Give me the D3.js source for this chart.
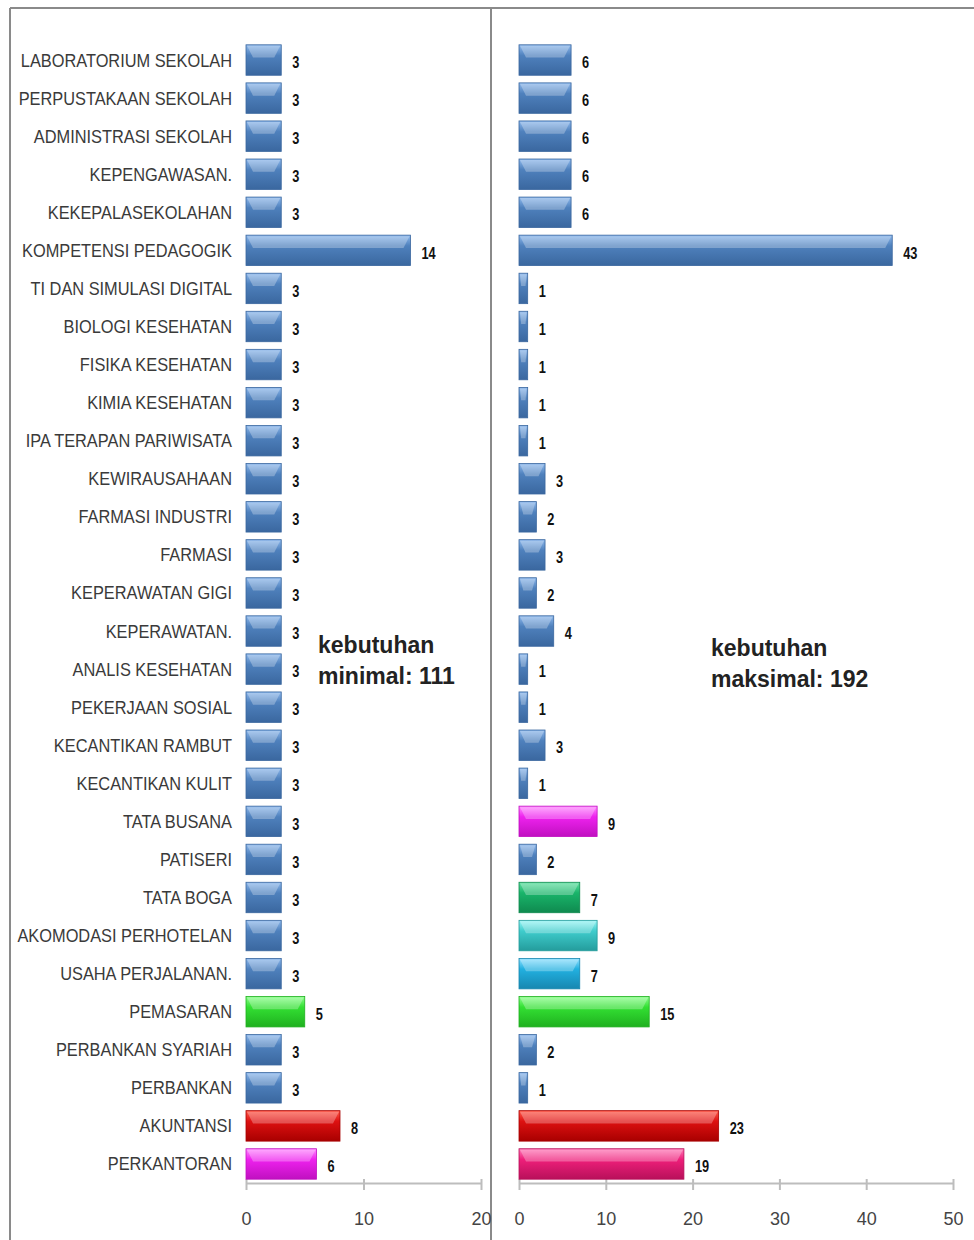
<!DOCTYPE html>
<html><head><meta charset="utf-8">
<script src="https://cdn.jsdelivr.net/npm/d3@7"></script>
<style>
html,body{margin:0;padding:0;background:#fff;}
svg{display:block;}
.cat{font-family:"Liberation Sans",Arial,sans-serif;font-size:18px;fill:#3a3a3a;}
.val{font-family:"Liberation Sans",Arial,sans-serif;font-size:17px;font-weight:bold;fill:#111;}
.tick text{font-family:"Liberation Sans",Arial,sans-serif;font-size:18px;fill:#444;}
.note{font-family:"Liberation Sans",Arial,sans-serif;font-size:23px;font-weight:bold;fill:#222;}
</style>
</head><body>
<svg id="c" width="974" height="1240"></svg>
<script>
const categories = ["LABORATORIUM SEKOLAH","PERPUSTAKAAN SEKOLAH","ADMINISTRASI SEKOLAH","KEPENGAWASAN.","KEKEPALASEKOLAHAN","KOMPETENSI PEDAGOGIK","TI DAN SIMULASI DIGITAL","BIOLOGI KESEHATAN","FISIKA KESEHATAN","KIMIA KESEHATAN","IPA TERAPAN PARIWISATA","KEWIRAUSAHAAN","FARMASI INDUSTRI","FARMASI","KEPERAWATAN GIGI","KEPERAWATAN.","ANALIS KESEHATAN","PEKERJAAN SOSIAL","KECANTIKAN RAMBUT","KECANTIKAN KULIT","TATA BUSANA","PATISERI","TATA BOGA","AKOMODASI PERHOTELAN","USAHA PERJALANAN.","PEMASARAN","PERBANKAN SYARIAH","PERBANKAN","AKUNTANSI","PERKANTORAN"];
const minValues = [3,3,3,3,3,14,3,3,3,3,3,3,3,3,3,3,3,3,3,3,3,3,3,3,3,5,3,3,8,6];
const maxValues = [6,6,6,6,6,43,1,1,1,1,1,3,2,3,2,4,1,1,3,1,9,2,7,9,7,15,2,1,23,19];
const minColors = ["blue","blue","blue","blue","blue","blue","blue","blue","blue","blue","blue","blue","blue","blue","blue","blue","blue","blue","blue","blue","blue","blue","blue","blue","blue","green","blue","blue","red","magenta"];
const maxColors = ["blue","blue","blue","blue","blue","blue","blue","blue","blue","blue","blue","blue","blue","blue","blue","blue","blue","blue","blue","blue","magenta","blue","teal","cyan","sky","green","blue","blue","red","pink"];
const leftTicks = [0,10,20];
const rightTicks = [0,10,20,30,40,50];
const notes = [["kebutuhan","minimal: 111"],["kebutuhan","maksimal: 192"]];

const palette = {
  blue:   ["#8db8ec","#4f81bd","#3a679f"],
  green:  ["#8cff8c","#33e033","#1fb01f"],
  red:    ["#ff5a4a","#dd1111","#a80000"],
  magenta:["#ff8cff","#ee22ee","#c010c0"],
  teal:   ["#5fe0a0","#19b46a","#0f8a4f"],
  cyan:   ["#9af5f5","#3fcccc","#249c9c"],
  sky:    ["#8fe0ff","#22b0e0","#1787b0"],
  pink:   ["#ff7ab8","#ee1f7a","#b8105a"]
};

const svg = d3.select("#c");
const defs = svg.append("defs");
Object.entries(palette).forEach(([k,c])=>{
  const g = defs.append("linearGradient").attr("id","g_"+k).attr("x1",0).attr("y1",0).attr("x2",0).attr("y2",1);
  g.append("stop").attr("offset","0%").attr("stop-color",c[0]);
  g.append("stop").attr("offset","35%").attr("stop-color",c[1]);
  g.append("stop").attr("offset","100%").attr("stop-color",c[2]);
});

// frame
svg.append("line").attr("x1",10).attr("x2",10).attr("y1",8).attr("y2",1240).attr("stroke","#8a8a8a").attr("stroke-width",2);
svg.append("line").attr("x1",10).attr("x2",974).attr("y1",8).attr("y2",8).attr("stroke","#8a8a8a").attr("stroke-width",2);
svg.append("line").attr("x1",491).attr("x2",491).attr("y1",8).attr("y2",1240).attr("stroke","#8a8a8a").attr("stroke-width",2);

const y = d3.scaleBand().domain(categories).range([41,1183]).paddingInner(0.2).paddingOuter(0.1);

function panel(values, colors, x, ticks, showCats, note, notePos){
  const g = svg.append("g");
  const axisY = 1183;
  const ax = g.append("g").attr("transform",`translate(0,${axisY})`)
    .call(d3.axisBottom(x).tickValues(ticks).tickSize(7).tickSizeOuter(0).tickPadding(22));
  ax.select(".domain").attr("stroke","#bdbdbd").attr("stroke-width",2);
  ax.selectAll(".tick line").attr("stroke","#bdbdbd").attr("stroke-width",2).attr("y1",-4);
  if(showCats){
    g.selectAll("text.cat").data(categories).join("text").attr("class","cat")
      .attr("transform",d=>`translate(${x(0)-14},${y(d)+y.bandwidth()/2}) scale(0.91,1)`)
      .attr("dy","0.36em")
      .attr("text-anchor","end").text(d=>d);
  }
  const bars = g.selectAll("g.bar").data(categories).join("g").attr("class","bar");
  bars.append("rect")
    .attr("x",x(0)).attr("y",d=>y(d))
    .attr("width",(d,i)=>x(values[i])-x(0)).attr("height",y.bandwidth())
    .attr("fill",(d,i)=>`url(#g_${colors[i]})`)
    .attr("stroke",(d,i)=>palette[colors[i]][2]).attr("stroke-width",0.8);
  bars.append("path")
    .attr("d",(d,i)=>{
      const x0=x(0), x1=x(values[i]), y0=y(d), h=y.bandwidth();
      const w=x1-x0, inset=Math.min(7,w*0.25);
      return `M${x0+1},${y0+1}L${x1-1},${y0+1}L${x1-inset},${y0+h*0.42}L${x0+inset},${y0+h*0.42}Z`;
    })
    .attr("fill","#ffffff").attr("opacity",0.28);
  bars.append("text").attr("class","val")
    .attr("transform",(d,i)=>`translate(${x(values[i])+11},${y(d)+y.bandwidth()/2+2}) scale(0.75,1)`)
    .attr("dy","0.36em")
    .text((d,i)=>values[i]);
  const t = g.append("text").attr("class","note").attr("x",notePos[0]).attr("y",notePos[1]);
  t.append("tspan").attr("x",notePos[0]).attr("dy",0).text(note[0]);
  t.append("tspan").attr("x",notePos[0]).attr("dy",31).text(note[1]);
}

const xL = d3.scaleLinear().domain([0,20]).range([246,481]);
const xR = d3.scaleLinear().domain([0,50]).range([519,953]);
panel(minValues,minColors,xL,leftTicks,true,notes[0],[318,653]);
panel(maxValues,maxColors,xR,rightTicks,false,notes[1],[711,656]);
</script>
</body></html>
